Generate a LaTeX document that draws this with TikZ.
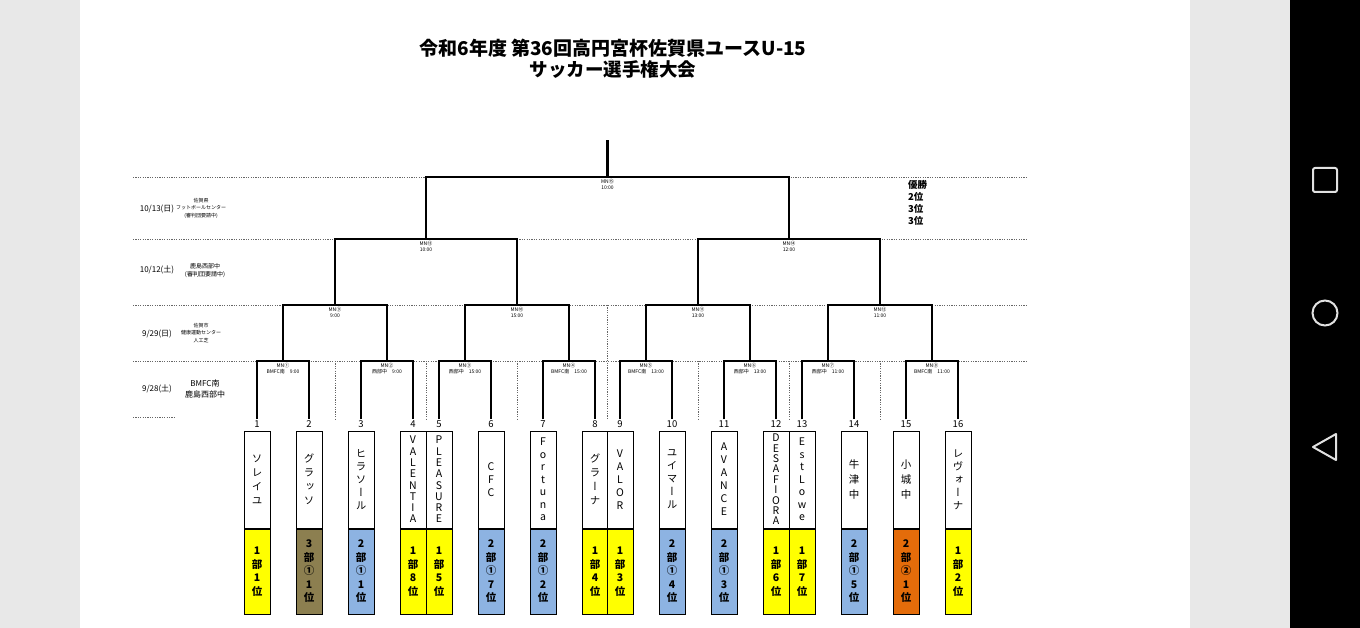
\documentclass[tikz,border=0pt]{standalone}
\usepackage{fontspec}
\setmainfont{Noto Sans CJK JP}
\newfontfamily\tate{Noto Sans CJK JP}[RawFeature=+vert]
\usetikzlibrary{positioning}
\definecolor{yel}{RGB}{255,255,0}
\definecolor{olv}{RGB}{140,127,80}
\definecolor{blu}{RGB}{141,179,226}
\definecolor{org}{RGB}{228,108,10}
\definecolor{scrn}{RGB}{232,232,232}
\definecolor{navi}{RGB}{225,225,225}

\begin{document}
\begin{tikzpicture}[x=1pt,y=-1pt,
  bracket/.style={line width=2.6pt,line join=miter},
  dotline/.style={black!60,line width=0.7pt,dash pattern=on 1.2pt off 1.2pt},
  num/.style={inner sep=1pt,font=\fontsize{9.5}{9.5}\selectfont},
  namebox/.style={draw,line width=1pt,fill=white,minimum width=26pt,
    minimum height=97pt,inner sep=0pt,align=center},
  rankbox/.style={draw,line width=1pt,minimum width=26pt,minimum height=85pt,
    inner sep=0pt,align=center,font=\bfseries\fontsize{10.5}{13.5}\selectfont},
  mn/.style={inner sep=0.5pt,align=center,font=\fontsize{5}{6.5}\selectfont},
  date/.style={inner sep=0pt,font=\fontsize{8}{8}\selectfont},
  venue/.style={inner sep=0pt,align=center,font=\fontsize{5}{7.5}\selectfont}]
\useasboundingbox (0,0) rectangle (1360,628);
% screen
\fill[scrn] (0,0) rectangle (80,628);
\fill[scrn] (1190,0) rectangle (1290,628);
\fill[black] (1290,0) rectangle (1360,628);
\draw[navi,line width=2pt,rounded corners=2pt] (1313,168) rectangle (1337,192);
\draw[navi,line width=2pt] (1325,313) circle (12.5pt);
\draw[navi,line width=2pt,line join=round] (1313,447) -- (1336,434) -- (1336,460) -- cycle;

% title
\node[font=\bfseries\fontsize{19}{19}\selectfont] (title1) at (613,48) {令和6年度 第36回高円宮杯佐賀県ユースU-15};
\node[font=\bfseries\fontsize{18.5}{18.5}\selectfont] (title2) at (613,70) {サッカー選手権大会};

% day lines
\foreach \y in {177,239,305,361}
  \draw[dotline] (133,\y) -- (1028,\y);
\draw[dotline] (133,417) -- (175,417);
\foreach \x in {335,426,517,698,789,880}
  \draw[dotline] (\x,361) -- (\x,420);
\draw[dotline] (607.5,305) -- (607.5,420);

% days and venues
\node[date] (d1) at (157,209) {10/13(日)};
\node[venue] (v1) at (201,208) {佐賀県\\フットボールセンター\\(審判団要請中)};
\node[date] (d2) at (157,270) {10/12(土)};
\node[venue,font=\fontsize{6}{8}\selectfont] (v2) at (205,271) {鹿島西部中\\(審判団要請中)};
\node[date] (d3) at (157,334) {9/29(日)};
\node[venue] (v3) at (201,333) {佐賀市\\健康運動センター\\人工芝};
\node[date] (d4) at (157,389) {9/28(土)};
\node[venue,font=\fontsize{8}{11}\selectfont] (v4) at (205,389) {BMFC南\\鹿島西部中};

% results column
\node[anchor=west,align=left,inner sep=0pt,font=\bfseries\fontsize{9.5}{12}\selectfont] (res) at (908,203) {優勝\\2位\\3位\\3位};

% teams
\foreach \x/\nm/\sp/\rk/\col [count=\i] in {
  257/{ソ\\レ\\イ\\ユ}/14/{1\\部\\1\\位}/yel,
  309/{グ\\ラ\\ッ\\ソ}/14/{3\\部\\①\\1\\位}/olv,
  361/{ヒ\\ラ\\ソ\\ー\\ル}/13/{2\\部\\①\\1\\位}/blu,
  413/{V\\A\\L\\E\\N\\T\\I\\A}/11.3/{1\\部\\8\\位}/yel,
  439/{P\\L\\E\\A\\S\\U\\R\\E}/11.3/{1\\部\\5\\位}/yel,
  491/{C\\F\\C}/13/{2\\部\\①\\7\\位}/blu,
  543/{F\\o\\r\\t\\u\\n\\a}/12.5/{2\\部\\①\\2\\位}/blu,
  595/{グ\\ラ\\ー\\ナ}/14/{1\\部\\4\\位}/yel,
  620/{V\\A\\L\\O\\R}/13/{1\\部\\3\\位}/yel,
  672/{ユ\\イ\\マ\\ー\\ル}/13/{2\\部\\①\\4\\位}/blu,
  724/{A\\V\\A\\N\\C\\E}/13/{2\\部\\①\\3\\位}/blu,
  776/{D\\E\\S\\A\\F\\I\\O\\R\\A}/10.4/{1\\部\\6\\位}/yel,
  802/{E\\s\\t\\L\\o\\w\\e}/12.5/{1\\部\\7\\位}/yel,
  854/{牛\\津\\中}/15/{2\\部\\①\\5\\位}/blu,
  906/{小\\城\\中}/15/{2\\部\\②\\1\\位}/org,
  958/{レ\\ヴ\\ォ\\ー\\ナ}/13/{1\\部\\2\\位}/yel} {
  \node[num] (n\i) at (\x,424) {\i};
  \node[namebox,font=\tate\fontsize{10.5}{\sp}\selectfont] (b\i) at (\x,479.5) {\nm};
  \node[rankbox,fill=\col,below=0pt of b\i] (r\i) {\rk};
}

% matches
\foreach \x [count=\i] in {283,387,465,569,646,750,828,932}
  \coordinate (m\i) at (\x,361);
\foreach \x [count=\i from 9] in {335,517,698,880}
  \coordinate (m\i) at (\x,305);
\coordinate (m13) at (426,239);
\coordinate (m14) at (789,239);
\coordinate (m15) at (607.5,177);
\coordinate (top) at (607.5,140);

\foreach \a/\b/\c in {1/2/1,3/4/2,5/6/3,7/8/4,9/10/5,11/12/6,13/14/7,15/16/8}
  \draw[bracket] (n\a.north) |- (m\c) -| (n\b.north);
\foreach \a/\b/\c in {1/2/9,3/4/10,5/6/11,7/8/12,9/10/13,11/12/14,13/14/15}
  \draw[bracket] (m\a) |- (m\c) -| (m\b);
\draw[bracket] (m15) -- (top);

% match labels
\foreach \c/\v/\t [count=\i] in {①/BMFC南/9:00,②/西部中/9:00,③/西部中/15:00,
  ④/BMFC南/15:00,⑤/BMFC南/13:00,⑥/西部中/13:00,⑦/西部中/11:00,⑧/BMFC南/11:00}
  \node[mn,below=1.5pt] (l\i) at (m\i) {MN\c\\\v\hspace{5pt}\t};
\foreach \c/\t [count=\i from 9] in {⑨/9:00,⑩/15:00,⑪/13:00,⑫/11:00,⑬/10:00,⑭/12:00,⑮/10:00}
  \node[mn,below=1.5pt] (l\i) at (m\i) {MN\c\\\t};
\end{tikzpicture}
\end{document}
